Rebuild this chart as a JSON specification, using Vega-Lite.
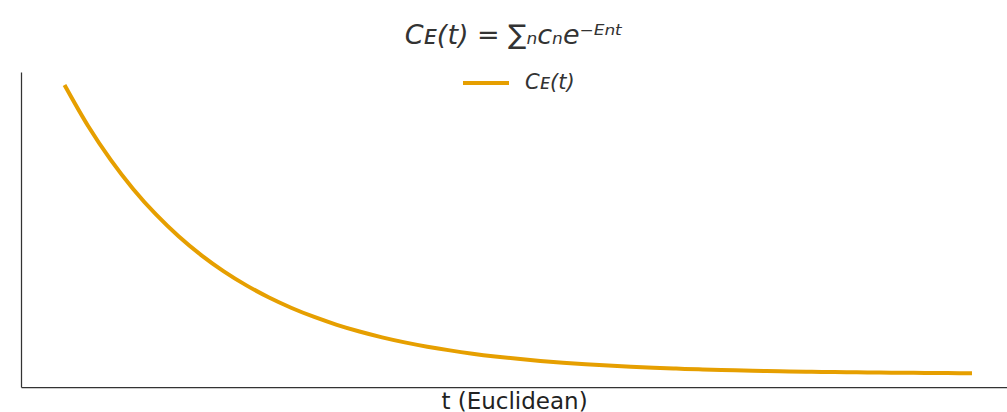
{
  "$schema": "https://vega.github.io/schema/vega-lite/v6.json",
  "autosize": "none",
  "width": 986,
  "height": 315,
  "padding": {"left": 21, "top": 72, "right": 0, "bottom": 25},
  "background": "white",
  "title": {
    "text": "Cᴇ(t) = ∑ₙcₙe⁻ᴱⁿᵗ",
    "font": "DejaVu Sans",
    "fontStyle": "italic",
    "fontWeight": "normal",
    "fontSize": 27,
    "color": "#333333",
    "anchor": "middle",
    "baseline": "alphabetic",
    "offset": -13
  },
  "data": {
    "values": [
      {"t": 0.0, "C": 1.0, "series": "Cᴇ(t)"},
      {"t": 0.25, "C": 0.8633, "series": "Cᴇ(t)"},
      {"t": 0.5, "C": 0.7453, "series": "Cᴇ(t)"},
      {"t": 0.75, "C": 0.6434, "series": "Cᴇ(t)"},
      {"t": 1.0, "C": 0.5554, "series": "Cᴇ(t)"},
      {"t": 1.25, "C": 0.4795, "series": "Cᴇ(t)"},
      {"t": 1.5, "C": 0.4139, "series": "Cᴇ(t)"},
      {"t": 1.75, "C": 0.3573, "series": "Cᴇ(t)"},
      {"t": 2.0, "C": 0.3085, "series": "Cᴇ(t)"},
      {"t": 2.25, "C": 0.2663, "series": "Cᴇ(t)"},
      {"t": 2.5, "C": 0.2299, "series": "Cᴇ(t)"},
      {"t": 2.75, "C": 0.1985, "series": "Cᴇ(t)"},
      {"t": 3.0, "C": 0.1713, "series": "Cᴇ(t)"},
      {"t": 3.25, "C": 0.1479, "series": "Cᴇ(t)"},
      {"t": 3.5, "C": 0.1277, "series": "Cᴇ(t)"},
      {"t": 3.75, "C": 0.1102, "series": "Cᴇ(t)"},
      {"t": 4.0, "C": 0.0952, "series": "Cᴇ(t)"},
      {"t": 4.25, "C": 0.0822, "series": "Cᴇ(t)"},
      {"t": 4.5, "C": 0.0709, "series": "Cᴇ(t)"},
      {"t": 4.75, "C": 0.0612, "series": "Cᴇ(t)"},
      {"t": 5.0, "C": 0.0529, "series": "Cᴇ(t)"},
      {"t": 5.25, "C": 0.0456, "series": "Cᴇ(t)"},
      {"t": 5.5, "C": 0.0394, "series": "Cᴇ(t)"},
      {"t": 5.75, "C": 0.0340, "series": "Cᴇ(t)"},
      {"t": 6.0, "C": 0.0294, "series": "Cᴇ(t)"},
      {"t": 6.25, "C": 0.0253, "series": "Cᴇ(t)"},
      {"t": 6.5, "C": 0.0219, "series": "Cᴇ(t)"},
      {"t": 6.75, "C": 0.0189, "series": "Cᴇ(t)"},
      {"t": 7.0, "C": 0.0163, "series": "Cᴇ(t)"},
      {"t": 7.25, "C": 0.0141, "series": "Cᴇ(t)"},
      {"t": 7.5, "C": 0.0122, "series": "Cᴇ(t)"},
      {"t": 7.75, "C": 0.0105, "series": "Cᴇ(t)"},
      {"t": 8.0, "C": 0.0091, "series": "Cᴇ(t)"},
      {"t": 8.25, "C": 0.0078, "series": "Cᴇ(t)"},
      {"t": 8.5, "C": 0.0068, "series": "Cᴇ(t)"},
      {"t": 8.75, "C": 0.0058, "series": "Cᴇ(t)"},
      {"t": 9.0, "C": 0.0050, "series": "Cᴇ(t)"},
      {"t": 9.25, "C": 0.0043, "series": "Cᴇ(t)"},
      {"t": 9.5, "C": 0.0037, "series": "Cᴇ(t)"},
      {"t": 9.75, "C": 0.0032, "series": "Cᴇ(t)"},
      {"t": 10.0, "C": 0.0028, "series": "Cᴇ(t)"}
    ]
  },
  "mark": {"type": "line", "strokeWidth": 4, "strokeCap": "square", "interpolate": "monotone"},
  "encoding": {
    "x": {
      "field": "t",
      "type": "quantitative",
      "scale": {"domain": [-0.492, 10.409], "nice": false, "zero": false},
      "axis": {
        "title": "t (Euclidean)",
        "titleFont": "DejaVu Sans",
        "titleFontSize": 23,
        "titleFontWeight": "normal",
        "titleColor": "#222222",
        "titlePadding": 3,
        "labels": false,
        "ticks": false,
        "grid": false,
        "domainColor": "#333333",
        "domainWidth": 1.25
      }
    },
    "y": {
      "field": "C",
      "type": "quantitative",
      "scale": {"domain": [-0.0452, 1.0512], "nice": false, "zero": false},
      "axis": {
        "title": null,
        "labels": false,
        "ticks": false,
        "grid": false,
        "domainColor": "#333333",
        "domainWidth": 1.25
      }
    },
    "color": {
      "field": "series",
      "type": "nominal",
      "scale": {"range": ["#e69f00"]},
      "legend": {
        "title": null,
        "orient": "none",
        "legendX": 440,
        "legendY": -14,
        "symbolType": "stroke",
        "symbolSize": 2116,
        "symbolStrokeWidth": 4,
        "labelFont": "DejaVu Sans",
        "labelFontStyle": "italic",
        "labelFontSize": 21,
        "labelColor": "#333333",
        "labelOffset": 14
      }
    }
  },
  "config": {
    "view": {"stroke": null}
  }
}
